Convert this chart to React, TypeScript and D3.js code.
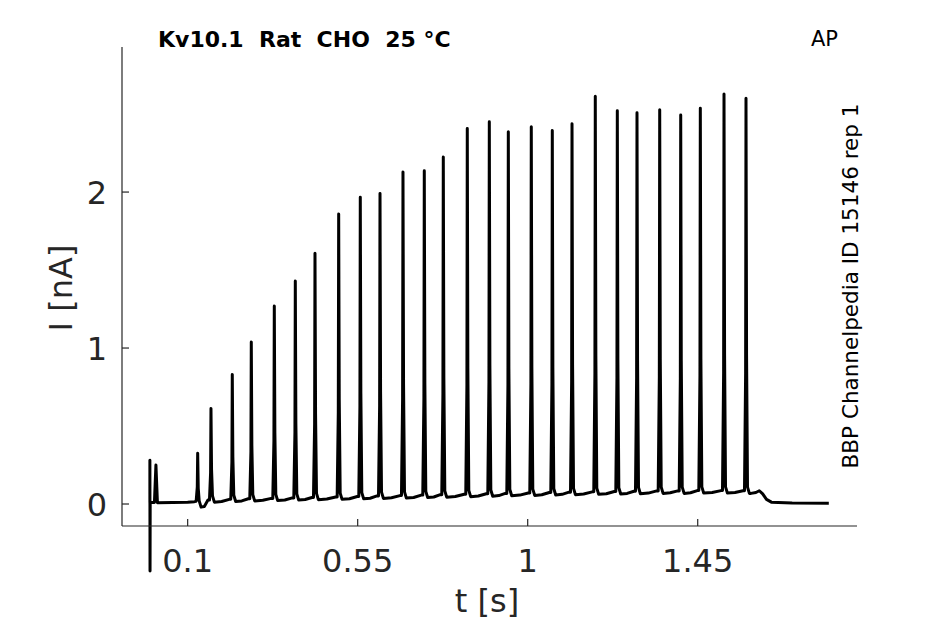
import React from "react";
import * as d3 from "d3";

// spike times [s] and peak currents [nA]
const spikeTimes = [
  0.1265, 0.1617, 0.2181, 0.2684, 0.3293, 0.3849, 0.437, 0.4997, 0.5569,
  0.6091, 0.6699, 0.7263, 0.7766, 0.8401, 0.8984, 0.9487, 1.0095, 1.0651,
  1.1173, 1.1789, 1.2372, 1.2893, 1.3494, 1.405, 1.4569, 1.5196, 1.5778,
];
const spikePeaks = [
  0.325, 0.613, 0.831, 1.038, 1.269, 1.429, 1.607, 1.859, 1.966, 1.991, 2.128,
  2.137, 2.224, 2.408, 2.451, 2.387, 2.419, 2.395, 2.438, 2.615, 2.521, 2.508,
  2.528, 2.494, 2.538, 2.628, 2.601,
];
// level in the trough after each spike, and level just before the next one
const troughAfter = [
  -0.02, 0.012, 0.016, 0.02, 0.022, 0.025, 0.028, 0.03, 0.033, 0.036, 0.038,
  0.041, 0.044, 0.047, 0.05, 0.053, 0.055, 0.058, 0.06, 0.062, 0.064, 0.066,
  0.068, 0.068, 0.07, 0.07, 0.068,
];
const preSpike = [
  0.018, 0.025, 0.03, 0.034, 0.036, 0.039, 0.042, 0.045, 0.048, 0.052, 0.054,
  0.057, 0.06, 0.063, 0.066, 0.068, 0.071, 0.074, 0.076, 0.078, 0.08, 0.082,
  0.084, 0.084, 0.086, 0.086, 0.085,
];
// stimulus artefact and first small event
const startTimes = [0, 0, 0.0004, 0.0008, 0.012, 0.016, 0.02, 0.06, 0.1, 0.118];
const startValues = [0.01, 0.28, -0.43, 0.01, 0.01, 0.25, 0.008, 0.01, 0.012, 0.015];
// decay after the train
const tailTimes = [1.591, 1.604, 1.613, 1.622, 1.632, 1.645, 1.7, 1.797];
const tailValues = [0.068, 0.074, 0.085, 0.065, 0.03, 0.012, 0.007, 0.005];

const xTicks = [0.1, 0.55, 1, 1.45];
const yTicks = [0, 1, 2];

const W = 945;
const H = 624;
const axisColor = "#262626";
const font = "'DejaVu Sans', sans-serif";

function buildTrace(): [number, number][] {
  const pts: [number, number][] = startTimes.map((t, i) => [t, startValues[i]]);
  spikeTimes.forEach((t, i) => {
    const pk = spikePeaks[i];
    const pre = preSpike[i];
    const tr = troughAfter[i];
    pts.push([t - 0.004, pre]);
    pts.push([t - 0.001, pre + 0.3 * (pk - pre)]);
    pts.push([t, pk]);
    pts.push([t + 0.0015, tr + 0.35 * (pk - tr)]);
    pts.push([t + 0.004, tr + 0.04]);
    pts.push([t + 0.009, tr]);
    const next = spikeTimes[i + 1];
    if (next !== undefined) {
      const dt = next - t;
      pts.push([t + 0.5 * dt, tr + 0.004]);
      pts.push([next - 0.008, preSpike[i + 1]]);
    }
  });
  tailTimes.forEach((t, i) => pts.push([t, tailValues[i]]));
  return pts;
}

export default function App() {
  const x = d3.scaleLinear().domain([-0.0738, 1.8716]).range([122, 857]);
  const y = d3.scaleLinear().domain([-0.141, 2.93]).range([526, 47]);

  const line = d3
    .line<[number, number]>()
    .x((d) => x(d[0]))
    .y((d) => y(d[1]));

  const trace = buildTrace();

  return (
    <svg
      width={W}
      height={H}
      style={{ position: "absolute", left: 0, top: 0, background: "white" }}
      fontFamily={font}
    >
      <path
        d={line(trace) ?? ""}
        fill="none"
        stroke="black"
        strokeWidth={3}
        strokeLinejoin="round"
      />

      {/* axes */}
      <line x1={122} x2={122} y1={y.range()[1]} y2={526} stroke={axisColor} strokeWidth={1.2} />
      <line x1={122} x2={857} y1={526} y2={526} stroke={axisColor} strokeWidth={1.2} />

      {xTicks.map((t) => (
        <g key={`x-${t}`}>
          <line x1={x(t)} x2={x(t)} y1={526} y2={519} stroke={axisColor} strokeWidth={1.2} />
          <text x={x(t)} y={572} textAnchor="middle" fontSize={32} fill={axisColor}>
            {t}
          </text>
        </g>
      ))}
      {yTicks.map((t) => (
        <g key={`y-${t}`}>
          <line x1={122} x2={129} y1={y(t)} y2={y(t)} stroke={axisColor} strokeWidth={1.2} />
          <text x={107} y={y(t) + 11.7} textAnchor="end" fontSize={32} fill={axisColor}>
            {t}
          </text>
        </g>
      ))}

      <text x={487} y={612} textAnchor="middle" fontSize={32} fill={axisColor}>
        t [s]
      </text>
      <text
        transform="translate(72, 288) rotate(-90)"
        textAnchor="middle"
        fontSize={32}
        fill={axisColor}
      >
        I [nA]
      </text>

      <text x={158} y={47} fontSize={22} fontWeight="bold" fill="black" style={{ whiteSpace: "pre" }}>
        Kv10.1  Rat  CHO  25 °C
      </text>
      <text x={811} y={46} fontSize={21} fill="black">
        AP
      </text>
      <text
        transform="translate(858, 286) rotate(-90)"
        textAnchor="middle"
        fontSize={21.5}
        fill="black"
      >
        BBP Channelpedia ID 15146 rep 1
      </text>
    </svg>
  );
}
